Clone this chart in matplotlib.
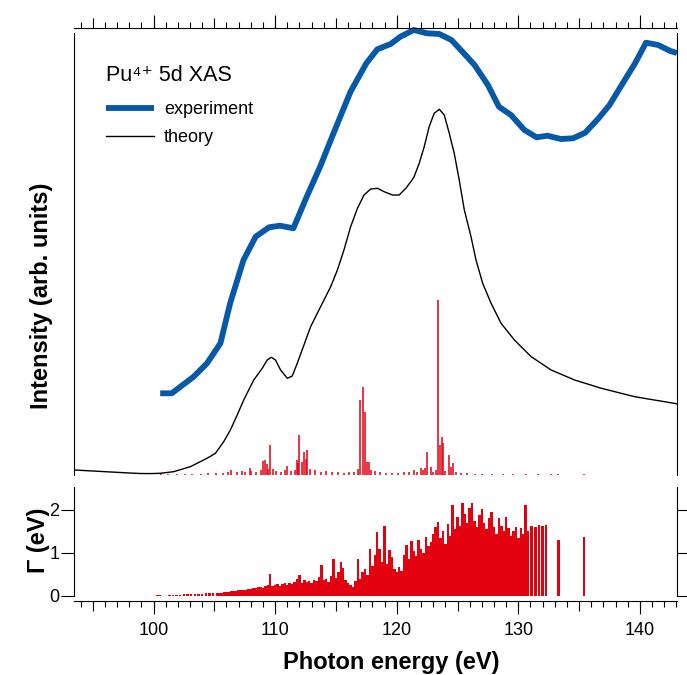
import matplotlib
matplotlib.use("Agg")
import matplotlib.pyplot as plt
from matplotlib.ticker import FixedLocator, MultipleLocator

# ---------------------------------------------------------------- data
# experiment (arb. units)
exp_e = [100.55, 101.5, 103.3, 104.4, 105.5, 106.3, 107.4, 108.4, 109.5, 110.4,
         111.5, 112.6, 113.7, 114.8, 116.2, 117.5, 118.4, 119.5, 120.3, 121.4,
         122.5, 123.5, 124.5, 125.4, 126.4, 127.5, 128.4, 129.4, 130.5, 131.5,
         132.4, 133.5, 134.5, 135.5, 136.6, 137.5, 138.5, 139.6, 140.5, 141.5,
         142.5, 143.05]
exp_i = [81.7, 81.7, 98.3, 111.7, 131.7, 171.7, 215, 238.3, 247.7, 249.3,
         246.7, 278.3, 308.3, 341.7, 383.3, 411.7, 425.7, 431, 438.3, 445,
         441.7, 441, 435, 423.3, 410, 390, 368.3, 360, 345, 337.7,
         339.3, 336, 336.7, 342.3, 356.7, 370, 390, 411.7, 432.3, 430,
         424, 422]

# theory (arb. units)
th_e = [93.5, 95.0, 96.5, 98.0, 98.9, 99.7, 100.55, 101.65, 103.03, 104.4,
        105.09, 105.77, 106.32, 106.88, 107.42, 108.24, 108.94, 109.35, 109.68, 110.03,
        110.45, 111.0, 111.41, 111.82, 112.37, 112.92, 113.74, 114.57, 115.12, 115.66,
        116.21, 116.77, 117.31, 117.86, 118.42, 118.96, 119.65, 120.2, 120.75, 121.16,
        121.43, 121.85, 122.26, 122.67, 123.08, 123.5, 123.91, 124.32, 124.73, 125.14,
        125.56, 126.11, 126.52, 127.07, 127.76, 128.58, 129.68, 131.06, 132.7, 134.63,
        136.83, 139.57, 143.15]
th_i = [5.0, 4.0, 3.0, 2.0, 1.5, 1.4, 1.7, 3.3, 8.3, 16.7,
        21.7, 33.3, 45, 60, 75, 95, 106.7, 115, 117.7, 115,
        105, 96.7, 99, 111.7, 130, 148.3, 168.3, 188.3, 205, 225,
        248.3, 266.7, 280, 286, 286.7, 283.3, 280, 280, 286.7, 293.3,
        298.3, 311.7, 328.3, 348.3, 361.7, 365.7, 360, 341.7, 321.7, 295,
        265, 238.3, 215, 191.7, 171.7, 151.7, 135, 118.3, 105, 95,
        86.7, 78.3, 71]

# calculated transitions, stick intensities
stick_e = [100.6, 101.2, 101.9, 102.6, 103.2, 103.9, 104.5, 105.1, 105.7, 106.1,
           106.4, 106.9, 107.3, 107.5, 107.9, 108.0, 108.4, 108.8, 109.0, 109.15,
           109.3, 109.45, 109.6, 109.8, 110.1, 110.5, 110.8, 111.0, 111.3, 111.6,
           111.8, 111.9, 112.0, 112.2, 112.35, 112.5, 112.65, 112.9, 113.3, 113.8,
           114.2, 114.7, 115.2, 115.7, 116.1, 116.5, 116.8, 117.0, 117.25, 117.4,
           117.55, 117.7, 117.9, 118.2, 118.6, 119.1, 119.6, 120.1, 120.6, 121.0,
           121.4, 121.7, 122.0, 122.15, 122.3, 122.5, 122.8, 123.0, 123.2, 123.36,
           123.55, 123.7, 123.8, 124.0, 124.3, 124.45, 124.6, 124.9, 125.3, 125.8,
           126.4, 127.0, 127.8, 128.7, 129.6, 130.6, 131.6, 132.7, 133.3, 135.4]
stick_i = [1, 1, 1, 1, 1.5, 1.5, 2, 2, 2.5, 3,
           5, 3, 4, 3, 7, 4, 3, 5, 14, 15,
           11, 6, 30, 6, 4, 3, 5, 9, 4, 5,
           15, 12, 40, 13, 23, 16, 25, 6, 5, 3,
           4, 3, 3, 2, 3, 3, 6, 75, 88, 63,
           13, 13, 5, 4, 3, 2, 2, 2, 3, 3,
           5, 3, 7, 5, 7, 23, 8, 3, 5, 175,
           30, 38, 32, 4, 20, 8, 12, 3, 2, 2,
           1.5, 1.5, 1, 1, 1, 1, 1, 0.8, 0.8, 0.8]

# lifetime broadening of the transitions (eV)
gamma_e = [100.3, 100.5, 101.3, 101.6, 101.9, 102.2, 102.5, 102.8, 103.1, 103.4,
           103.7, 104.0, 104.3, 104.6, 104.9, 105.2, 105.4, 105.6, 105.8, 106.0,
           106.2, 106.4, 106.6, 106.8, 107.0, 107.2, 107.4, 107.6, 107.8, 108.0,
           108.2, 108.4, 108.6, 108.8, 109.0, 109.2, 109.4, 109.6, 109.8, 110.0,
           110.2, 110.4, 110.6, 110.8, 111.0, 111.2, 111.4, 111.6, 111.8, 112.0,
           112.2, 112.4, 112.6, 112.8, 113.0, 113.2, 113.4, 113.6, 113.8, 114.0,
           114.2, 114.4, 114.6, 114.8, 115.0, 115.2, 115.4, 115.6, 115.8, 116.0,
           116.2, 116.4, 116.6, 116.8, 117.0, 117.2, 117.4, 117.6, 117.8, 118.0,
           118.2, 118.4, 118.6, 118.8, 119.0, 119.2, 119.4, 119.6, 119.8, 120.0,
           120.2, 120.4, 120.6, 120.8, 121.0, 121.2, 121.4, 121.6, 121.8, 122.0,
           122.2, 122.4, 122.6, 122.8, 123.0, 123.2, 123.4, 123.6, 123.8, 124.0,
           124.2, 124.4, 124.6, 124.8, 125.0, 125.2, 125.4, 125.6, 125.8, 126.0,
           126.2, 126.4, 126.6, 126.8, 127.0, 127.2, 127.4, 127.6, 127.8, 128.0,
           128.2, 128.4, 128.6, 128.8, 129.0, 129.2, 129.4, 129.6, 129.8, 130.0,
           130.2, 130.4, 130.6, 130.8, 131.1, 131.4, 131.7, 132.0, 132.3, 133.3,
           135.4]
gamma_v = [0.02, 0.02, 0.02, 0.03, 0.03, 0.03, 0.04, 0.04, 0.04, 0.05,
           0.05, 0.05, 0.06, 0.06, 0.07, 0.07, 0.08, 0.08, 0.09, 0.10,
           0.10, 0.11, 0.12, 0.12, 0.13, 0.14, 0.13, 0.15, 0.16, 0.17,
           0.18, 0.19, 0.20, 0.22, 0.19, 0.24, 0.26, 0.52, 0.23, 0.25,
           0.27, 0.24, 0.28, 0.30, 0.26, 0.31, 0.29, 0.33, 0.40, 0.48,
           0.30, 0.36, 0.32, 0.35, 0.30, 0.38, 0.34, 0.45, 0.73, 0.36,
           0.40, 0.33, 0.46, 0.87, 0.42, 0.55, 0.79, 0.66, 0.38, 0.30,
           0.25, 0.22, 0.35, 0.85, 0.40, 0.55, 0.62, 0.48, 1.08, 0.70,
           0.95, 1.49, 1.10, 0.80, 1.62, 0.75, 1.06, 0.90, 0.62, 0.55,
           0.67, 0.58, 0.95, 1.18, 0.85, 1.28, 1.05, 0.92, 1.29, 1.10,
           1.00, 1.37, 1.15, 1.25, 1.45, 1.60, 1.72, 1.35, 1.50, 1.20,
           1.68, 1.40, 2.11, 1.55, 1.84, 1.62, 2.17, 1.90, 1.70, 2.05,
           2.15, 1.75, 1.60, 1.88, 2.03, 1.70, 1.55, 1.82, 1.95, 1.60,
           1.45, 1.80, 1.62, 1.50, 1.84, 1.58, 1.40, 1.52, 1.60, 1.35,
           1.57, 1.45, 2.11, 1.50, 1.62, 1.60, 1.64, 1.62, 1.64, 1.29,
           1.37]

x_labels = [100, 110, 120, 130, 140]
x_mid = [95, 105, 115, 125, 135]
g_ticks = [0, 1, 2]

# ---------------------------------------------------------------- style
BLUE = "#0659a8"
RED = "#e3000f"
XMIN, XMAX = 93.46, 143.05

plt.rcParams["font.family"] = ["Liberation Sans", "DejaVu Sans"]
plt.rcParams["axes.linewidth"] = 0.8

W, H = 687, 675


def box(x0, y0, x1, y1):
    # pixel box (origin top-left) -> figure fraction
    return [x0 / W, 1 - y1 / H, (x1 - x0) / W, (y1 - y0) / H]


def energy_ticks(ax, where, offset):
    ax.spines[where].set_position(("axes", offset))
    ax.xaxis.set_ticks_position(where)
    ax.xaxis.set_major_locator(FixedLocator(x_mid))
    ax.xaxis.set_minor_locator(MultipleLocator(1))
    ax.tick_params(axis="x", which="major", direction="out", length=7.2, width=0.8,
                   labelbottom=False, labeltop=False)
    ax.tick_params(axis="x", which="minor", direction="out", length=4.3, width=0.8)
    sec = ax.secondary_xaxis(offset)
    sec.set_xticks(x_labels)
    sec.tick_params(axis="x", direction="out", length=9.4, width=0.8, labelsize=13,
                    pad=5.5, labeltop=False, labelbottom=(where == "bottom"))
    for s in sec.spines.values():
        s.set_visible(False)
    return sec


fig = plt.figure(figsize=(W / 100, H / 100), dpi=100)
ax1 = fig.add_axes(box(74, 33, 677, 475))
ax2 = fig.add_axes(box(74, 487, 677, 596))

# ---------------------------------------------------------------- top panel
l_th, = ax1.plot(th_e, th_i, color="black", lw=1.0, solid_joinstyle="round")
l_exp, = ax1.plot(exp_e, exp_i, color=BLUE, lw=4.2, solid_joinstyle="round",
                  solid_capstyle="butt", clip_on=False)
ax1.vlines(stick_e, 0, stick_i, color=RED, lw=1.1)
ax1.set_xlim(XMIN, XMAX)
ax1.set_ylim(0, 442)
ax1.spines["bottom"].set_visible(False)
ax1.tick_params(axis="y", left=False, right=False, labelleft=False)
energy_ticks(ax1, "top", 1 + 5 / 442)

fig.text(106.5 / W, 1 - 80.7 / H, "Pu\u2074\u207a 5d XAS", fontsize=15.5, va="baseline")
ax1.legend([l_exp, l_th], ["experiment", "theory"], loc="upper left",
           bbox_to_anchor=(106 / W, 1 - 101 / H), bbox_transform=fig.transFigure,
           frameon=False, fontsize=13, handlelength=2.67, handletextpad=0.55,
           labelspacing=0.62, borderpad=0, borderaxespad=0)

# ---------------------------------------------------------------- bottom panel
ax2.bar(gamma_e, gamma_v, width=0.2, color=RED, linewidth=0)
ax2.set_xlim(XMIN, XMAX)
ax2.set_ylim(0, 2.53)
ax2.spines["top"].set_visible(False)
ax2.set_yticks(g_ticks)
ax2.tick_params(axis="y", direction="out", length=9.4, width=0.8, left=True,
                right=True, labelsize=13, pad=1)
energy_ticks(ax2, "bottom", -5 / 109)

# ---------------------------------------------------------------- labels
fig.text(391 / W, 1 - 662 / H, "Photon energy (eV)", ha="center", va="center",
         fontsize=17, fontweight="bold")
fig.text(42 / W, 1 - 296 / H, "Intensity (arb. units)", ha="center", va="center",
         rotation=90, fontsize=17, fontweight="bold")
fig.text(39 / W, 1 - 540 / H, "Γ (eV)", ha="center", va="center",
         rotation=90, fontsize=17, fontweight="bold")

fig.savefig("out.png", dpi=100)
